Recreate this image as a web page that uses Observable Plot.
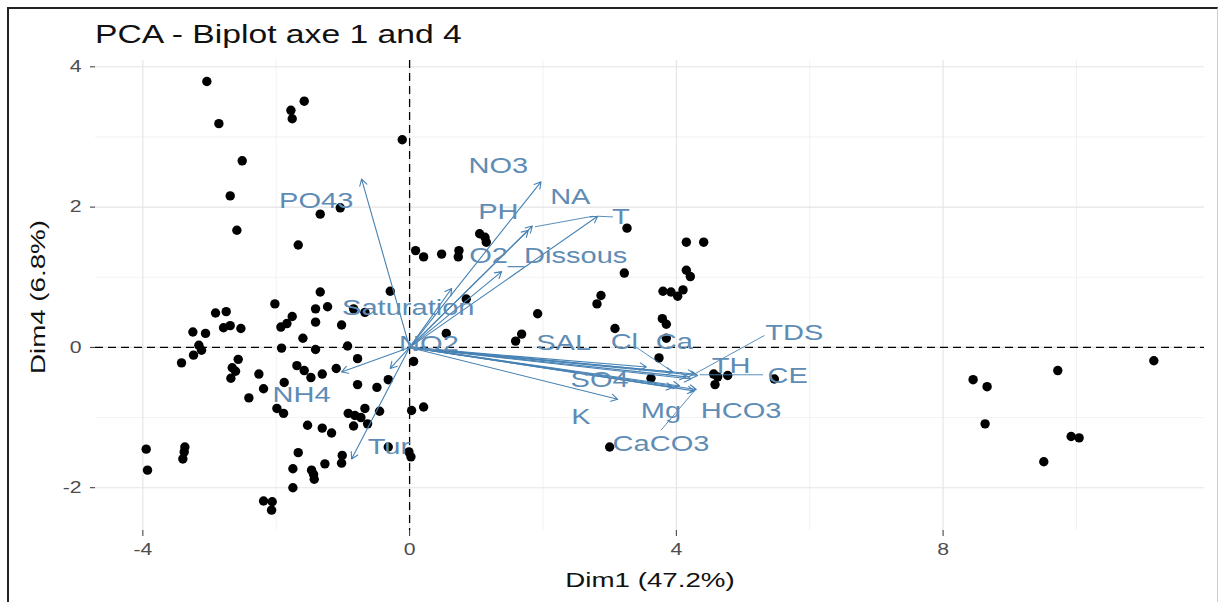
<!DOCTYPE html>
<html>
<head>
<meta charset="utf-8">
<script src="https://cdn.jsdelivr.net/npm/d3@7"></script>
<script src="https://cdn.jsdelivr.net/npm/@observablehq/plot@0.6"></script>
<style>
  html, body { margin: 0; padding: 0; background: #fff; }
  #wrap { position: relative; width: 1218px; height: 602px; overflow: hidden; }
  #frame { position: absolute; left: 7px; top: 7px; width: 1208px; height: 600px;
           border-left: 2px solid #222; border-top: 2px solid #222; border-right: 1px solid #ccc; pointer-events: none; }
</style>
</head>
<body>
<div id="wrap"><div id="frame"></div></div>
<script>
// ---- individuals (Dim1, Dim4) ----
const indDim1 = [
  -3.04,-2.86,-1.78,-1.76,-1.58,-0.11,-2.51,-2.69,-2.59,-1.34,-1.04,-1.67,0.09,-1.34,-0.29,
  -2.02,-1.41,-1.23,-1.76,-2.91,-2.75,-0.67,-2.79,-2.69,-2.53,-1.93,-1.84,-1.41,-1.02,-3.25,
  -3.06,-1.60,-1.92,-1.41,-0.93,-3.16,-3.12,-3.24,-3.42,-2.57,-2.66,-2.61,-2.68,-0.78,0.06,
  -1.69,-1.58,-1.48,-1.31,-1.10,-2.26,-2.19,-2.41,-1.88,-0.78,-0.49,-0.32,-1.99,-1.89,-0.92,
  -0.82,-0.73,-0.67,-0.84,-0.63,-0.45,0.03,-1.53,-1.31,-1.17,-3.95,-3.93,-3.37,-3.38,-3.40,
  -1.67,-1.01,-1.02,-1.27,-1.75,-1.47,-1.44,-1.43,-1.75,-0.01,0.02,-2.19,-2.06,-2.07,0.21,
  3.26,4.15,4.41,0.21,0.48,0.74,0.73,1.05,1.13,1.15,3.22,4.15,4.21,2.87,2.81,
  3.80,3.92,4.02,4.10,3.79,3.85,3.08,1.92,0.85,0.55,1.68,1.59,3.85,3.74,3.62,
  4.56,4.62,4.77,4.58,5.47,3.00,-0.32,8.45,8.66,8.63,9.72,9.92,10.04,9.51,11.16,-0.84
];
const indDim4 = [
  3.79,3.19,3.38,3.26,3.51,2.96,2.66,2.16,1.67,1.90,1.99,1.46,1.38,0.79,0.80,
  0.62,0.55,0.58,0.44,0.49,0.51,0.50,0.28,0.31,0.27,0.29,0.34,0.36,0.32,0.22,
  0.20,0.13,-0.01,-0.03,0.02,0.03,-0.04,-0.11,-0.22,-0.17,-0.29,-0.34,-0.44,-0.16,-0.20,
  -0.26,-0.33,-0.43,-0.38,-0.30,-0.38,-0.59,-0.72,-0.50,-0.53,-0.57,-0.46,-0.87,-0.94,-0.94,
  -0.97,-1.00,-0.87,-1.12,-1.09,-0.91,-0.90,-1.11,-1.15,-1.22,-1.45,-1.75,-1.42,-1.49,-1.59,
  -1.50,-1.54,-1.65,-1.66,-1.73,-1.75,-1.81,-1.88,-2.00,-1.49,-1.56,-2.19,-2.20,-2.32,-0.85,
  1.70,1.50,1.50,1.29,1.33,1.38,1.29,1.62,1.57,1.50,1.06,1.10,1.01,0.74,0.62,
  0.80,0.79,0.73,0.82,0.41,0.33,0.27,0.48,0.69,0.20,0.19,0.09,0.13,-0.15,-0.44,
  -0.38,-0.42,-0.40,-0.53,-0.45,-1.42,-1.42,-0.46,-0.56,-1.09,-0.33,-1.27,-1.29,-1.63,-0.19,0.55
];

// ---- variables: arrow tips and label positions ----
const varNames = ["PO43","NO3","NA","PH","T","O2_Dissous","Saturation","NO2","NH4","Tur",
                  "SAL","Cl","Ca","TDS","TH","CE","SO4","K","Mg","HCO3","CaCO3"];
const varDim1  = [-0.72,1.97,1.84,1.78,2.82,1.38,0.63,-0.29,-1.02,-0.87,
                  3.55,3.95,4.15,4.27,4.22,4.32,3.95,3.12,4.05,4.30,4.27];
const varDim4  = [2.40,2.36,1.73,1.67,1.87,1.08,0.84,-0.30,-0.35,-1.59,
                  -0.28,-0.35,-0.42,-0.38,-0.45,-0.40,-0.57,-0.74,-0.55,-0.60,-0.62];
const labDim1  = [-1.40,1.33,2.41,1.33,3.17,2.08,-0.02,0.29,-1.62,-0.31,
                  2.31,3.22,3.97,5.77,4.82,5.67,2.85,2.57,3.77,4.97,3.77];
const labDim4  = [2.09,2.59,2.14,1.93,1.86,1.31,0.56,0.05,-0.68,-1.42,
                  0.06,0.08,0.08,0.20,-0.26,-0.40,-0.47,-0.99,-0.90,-0.90,-1.38];

// ---- repel segments (label side -> point side) ----
const segFromDim1 = [5.32, 5.30, 3.77, 3.05, 1.88, 3.40];
const segFromDim4 = [0.17, -0.39, -1.18, 1.86, 1.72, 0.00];
const segToDim1   = [4.27, 4.35, 4.27, 2.82, 2.75, 3.95];
const segToDim4   = [-0.38, -0.39, -0.62, 1.87, 1.87, -0.35];

// ---- axes ----
const xMajor = [-4, 0, 4, 8];
const xMinor = [-2, 2, 6, 10];
const yMajor = [-2, 0, 2, 4];
const yMinor = [-1, 1, 3];
const titleText = "PCA - Biplot axe 1 and 4";
const xTitle = "Dim1 (47.2%)";
const yTitle = "Dim4 (6.8%)";

const individuals = indDim1.map((x, i) => ({x, y: indDim4[i]}));
const variables = varNames.map((name, i) => ({name, x: varDim1[i], y: varDim4[i], lx: labDim1[i], ly: labDim4[i]}));
const segments = segFromDim1.map((x1, i) => ({x1, y1: segFromDim4[i], x2: segToDim1[i], y2: segToDim4[i]}));

const FONT = "'Liberation Sans', Arial, Helvetica, sans-serif";
const BLUE = "#4682b4";
const fmt = d => String(d); // hyphen-minus, no decimals, as in the reference

const chart = Plot.plot({
  width: 1218,
  height: 602,
  marginLeft: 95,
  marginRight: 14,
  marginTop: 60,
  marginBottom: 72,
  style: {fontFamily: FONT, background: "transparent", overflow: "visible"},
  x: {domain: [-4.71, 11.92]},
  y: {domain: [-2.61, 4.09]},
  marks: [
    Plot.gridX(xMinor, {stroke: "#efefef", strokeOpacity: 1, strokeWidth: 0.8}),
    Plot.gridY(yMinor, {stroke: "#efefef", strokeOpacity: 1, strokeWidth: 0.8}),
    Plot.gridX(xMajor, {stroke: "#e4e4e4", strokeOpacity: 1, strokeWidth: 1.1}),
    Plot.gridY(yMajor, {stroke: "#e4e4e4", strokeOpacity: 1, strokeWidth: 1.1}),
    Plot.axisX(xMajor, {tickSize: 6, tickPadding: 7, fontSize: 16, color: "#4d4d4d", stroke: "#333", tickFormat: fmt, label: null}),
    Plot.axisY(yMajor, {tickSize: 5, tickPadding: 9, fontSize: 16, color: "#4d4d4d", stroke: "#333", tickFormat: fmt, label: null}),
    Plot.ruleX([0], {stroke: "#000", strokeWidth: 1.3, strokeDasharray: "8,5"}),
    Plot.ruleY([0], {stroke: "#000", strokeWidth: 1.3, strokeDasharray: "8,5"}),
    Plot.dot(individuals, {x: "x", y: "y", r: 4.7, fill: "#000", stroke: null}),
    Plot.arrow(variables, {x1: 0, y1: 0, x2: "x", y2: "y", stroke: BLUE, strokeWidth: 1.1, headLength: 10, headAngle: 60}),
    Plot.link(segments, {x1: "x1", y1: "y1", x2: "x2", y2: "y2", stroke: BLUE, strokeWidth: 0.9}),
    Plot.text(variables, {x: "lx", y: "ly", text: "name", fill: "#5e8cb5", fontSize: 22})
  ]
});

document.getElementById("wrap").appendChild(chart);
chart.style.position = "absolute";
chart.style.left = "0px";
chart.style.top = "0px";

const svg = d3.select(chart);
svg.append("text").attr("x", 95).attr("y", 43).attr("text-anchor", "start")
  .attr("font-family", FONT).attr("font-size", 25.5).attr("fill", "#111")
  .text(titleText);
svg.append("text").attr("x", 650).attr("y", 587).attr("text-anchor", "middle")
  .attr("font-family", FONT).attr("font-size", 21).attr("fill", "#111")
  .text(xTitle);
svg.append("text").attr("transform", "translate(45,297) rotate(-90)").attr("text-anchor", "middle")
  .attr("font-family", FONT).attr("font-size", 21).attr("fill", "#111")
  .text(yTitle);

// the reference's glyphs are wider than Liberation Sans: widen every label
chart.querySelectorAll("text").forEach(t => {
  const L = t.getComputedTextLength();
  if (L > 0) {
    t.setAttribute("textLength", (L * 1.32).toFixed(1));
    t.setAttribute("lengthAdjust", "spacingAndGlyphs");
  }
});
</script>
</body>
</html>
